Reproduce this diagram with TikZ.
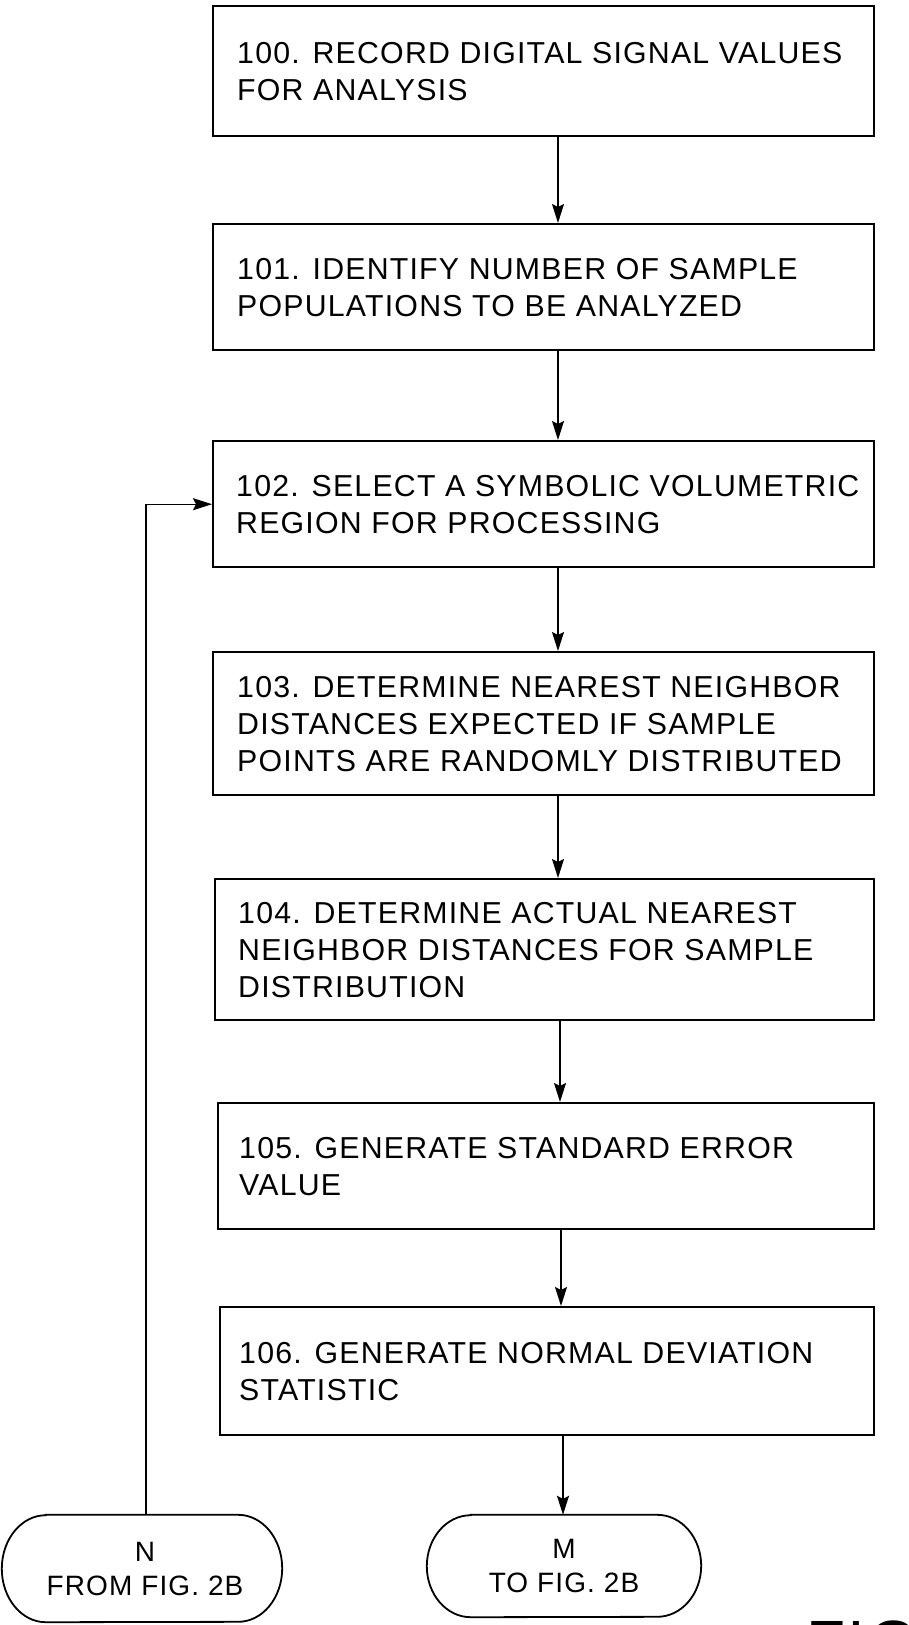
\documentclass[tikz,border=0pt]{standalone}
\usepackage{fontspec}
\setmainfont{Liberation Sans}[LetterSpace=4]
\usetikzlibrary{arrows.meta}
\begin{document}
\begin{tikzpicture}[x=1pt,y=-1pt,
  box/.style={draw, line width=2.4pt, anchor=north west, inner sep=0pt},
  txt/.style={anchor=west, align=left, inner sep=0pt, font=\fontsize{30.3}{37}\selectfont},
  termtxt/.style={align=center, inner sep=0pt, font=\fontsize{28}{34}\selectfont},
  outline/.style={line width=1.8pt},
  flow/.style={line width=1.4pt, -{Stealth[length=19pt,width=12pt,inset=3pt]}},
]
\useasboundingbox (0,0) rectangle (909,1625);

% process boxes
\node[box, minimum width=661pt, minimum height=130pt] (b100) at (212,5) {};
\node[box, minimum width=661pt, minimum height=126pt] (b101) at (212,223) {};
\node[box, minimum width=661pt, minimum height=126pt] (b102) at (212,440) {};
\node[box, minimum width=661pt, minimum height=143pt] (b103) at (212,651) {};
\node[box, minimum width=659pt, minimum height=141pt] (b104) at (214,878) {};
\node[box, minimum width=656pt, minimum height=126pt] (b105) at (217,1102) {};
\node[box, minimum width=654pt, minimum height=128pt] (b106) at (219,1306) {};

% box texts
\node[txt] (t100) at ([xshift=25pt]b100.west) {100. RECORD DIGITAL SIGNAL VALUES\\FOR ANALYSIS};
\node[txt] (t101) at ([xshift=25pt]b101.west) {101. IDENTIFY NUMBER OF SAMPLE\\POPULATIONS TO BE ANALYZED};
\node[txt] (t102) at ([xshift=24pt]b102.west) {102. SELECT A SYMBOLIC VOLUMETRIC\\REGION FOR PROCESSING};
\node[txt] (t103) at ([xshift=25pt]b103.west) {103. DETERMINE NEAREST NEIGHBOR\\DISTANCES EXPECTED IF SAMPLE\\POINTS ARE RANDOMLY DISTRIBUTED};
\node[txt] (t104) at ([xshift=24pt]b104.west) {104. DETERMINE ACTUAL NEAREST\\NEIGHBOR DISTANCES FOR SAMPLE\\DISTRIBUTION};
\node[txt] (t105) at ([xshift=22pt]b105.west) {105. GENERATE STANDARD ERROR\\VALUE};
\node[txt] (t106) at ([xshift=20pt]b106.west) {106. GENERATE NORMAL DEVIATION\\STATISTIC};

% terminals
\node[minimum width=280pt, minimum height=107pt, inner sep=0pt] (N) at (142,1568.5) {};
\node[minimum width=274pt, minimum height=102pt, inner sep=0pt] (M) at (564,1566) {};
\draw[outline] ([xshift=44pt]N.north west) -- ([xshift=-44pt]N.north east)
  arc[start angle=-90, end angle=90, x radius=44, y radius=53.5]
  -- ([xshift=44pt]N.south west)
  arc[start angle=90, end angle=270, x radius=44, y radius=53.5] -- cycle;
\draw[outline] ([xshift=44pt]M.north west) -- ([xshift=-44pt]M.north east)
  arc[start angle=-90, end angle=90, x radius=44, y radius=51]
  -- ([xshift=44pt]M.south west)
  arc[start angle=90, end angle=270, x radius=44, y radius=51] -- cycle;
\node[termtxt] (tN) at ([xshift=3pt]N) {N\\FROM FIG. 2B};
\node[termtxt] (tM) at (M) {M\\TO FIG. 2B};

% connector x positions
\coordinate (a1) at (558,0);
\coordinate (a5) at (560,0);
\coordinate (a6) at (561,0);
\coordinate (a7) at (563,0);
\coordinate (fbx) at (146,0);

\draw[flow] (b100.south -| a1) -- (b101.north -| a1);
\draw[flow] (b101.south -| a1) -- (b102.north -| a1);
\draw[flow] (b102.south -| a1) -- (b103.north -| a1);
\draw[flow] (b103.south -| a1) -- (b104.north -| a1);
\draw[flow] (b104.south -| a5) -- (b105.north -| a5);
\draw[flow] (b105.south -| a6) -- (b106.north -| a6);
\draw[flow] (b106.south -| a7) -- (M.north -| a7);
\draw[flow] (N.north -| fbx) |- (b102.west);

% partially visible figure label
\begin{scope}
\clip (0,0) rectangle (909,1625);
\node[anchor=north west, inner sep=0pt, font=\fontsize{64}{64}\selectfont] (fig) at (806,1620.5) {FIG};
\end{scope}
\end{tikzpicture}
\end{document}
